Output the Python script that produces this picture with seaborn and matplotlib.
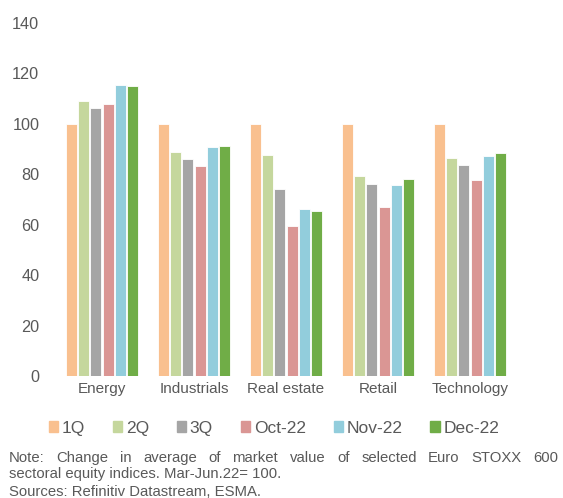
import pandas as pd
import seaborn as sns
import matplotlib.pyplot as plt

sectors = ["Energy", "Industrials", "Real estate", "Retail", "Technology"]
periods = ["1Q", "2Q", "3Q", "Oct-22", "Nov-22", "Dec-22"]
q1 = [100, 100, 100, 100, 100]
q2 = [109.1, 88.9, 87.7, 79.4, 86.5]
q3 = [106.3, 86.2, 74.3, 76.2, 83.7]
oct22 = [107.9, 83.1, 59.6, 66.9, 77.6]
nov22 = [115.5, 91.0, 66.1, 75.8, 87.4]
dec22 = [115.0, 91.3, 65.5, 78.0, 88.6]
colors = ["#F9C08F", "#C5D79D", "#A5A5A5", "#DA9694", "#92CDDC", "#70AD47"]

rows = []
for period, vals in zip(periods, [q1, q2, q3, oct22, nov22, dec22]):
    for s, v in zip(sectors, vals):
        rows.append({"sector": s, "period": period, "value": v})
df = pd.DataFrame(rows)

sns.set_style("white")
plt.rcParams["font.family"] = ["Liberation Sans", "DejaVu Sans"]
grey = "#595959"

fig = plt.figure(figsize=(5.63, 4.98), dpi=100)
ax = fig.add_axes([56 / 563, 1 - 376 / 498, 460 / 563, 353 / 498])
sns.barplot(data=df, x="sector", y="value", hue="period", hue_order=periods,
            palette=colors, saturation=1, width=0.8, gap=0.12, edgecolor="white",
            linewidth=0.6, ax=ax, legend=False)
ax.set_ylim(0, 140)
ax.set_yticks(range(0, 141, 20))
ax.set_xlim(-0.5, 4.5)
ax.set_xlabel("")
ax.set_ylabel("")
for sp in ax.spines.values():
    sp.set_visible(False)
ax.tick_params(axis="x", length=0, labelsize=11, colors=grey, pad=4)
ax.tick_params(axis="y", length=0, labelsize=11.7, colors=grey, pad=12)

handles = [plt.Rectangle((0, 0), 1, 1, color=c) for c in colors]
fig.legend(handles, periods, loc="center", bbox_to_anchor=(274 / 563, 1 - 428 / 498),
           ncol=6, frameon=False, fontsize=12.5, handlelength=0.55, handleheight=0.55,
           handletextpad=0.2, columnspacing=1.6, labelcolor=grey)

# justified first line of the note
fig.canvas.draw()
renderer = fig.canvas.get_renderer()
words = "Note: Change in average of market value of selected Euro STOXX 600".split()
left, right = 9 / 563, 558 / 563
fs = 10.7
texts = [fig.text(0, 1 - 458 / 498, w, fontsize=fs, color=grey, va="center") for w in words]
widths = [t.get_window_extent(renderer).width / 563 for t in texts]
space = (right - left - sum(widths)) / (len(words) - 1)
x = left
for t, w in zip(texts, widths):
    t.set_x(x)
    x += w + space
fig.text(left, 1 - 474 / 498, "sectoral equity indices. Mar-Jun.22= 100.",
         fontsize=fs, color=grey, va="center")
fig.text(left, 1 - 492 / 498, "Sources: Refinitiv Datastream, ESMA.",
         fontsize=fs, color=grey, va="center")

fig.savefig("out.png", dpi=100)
